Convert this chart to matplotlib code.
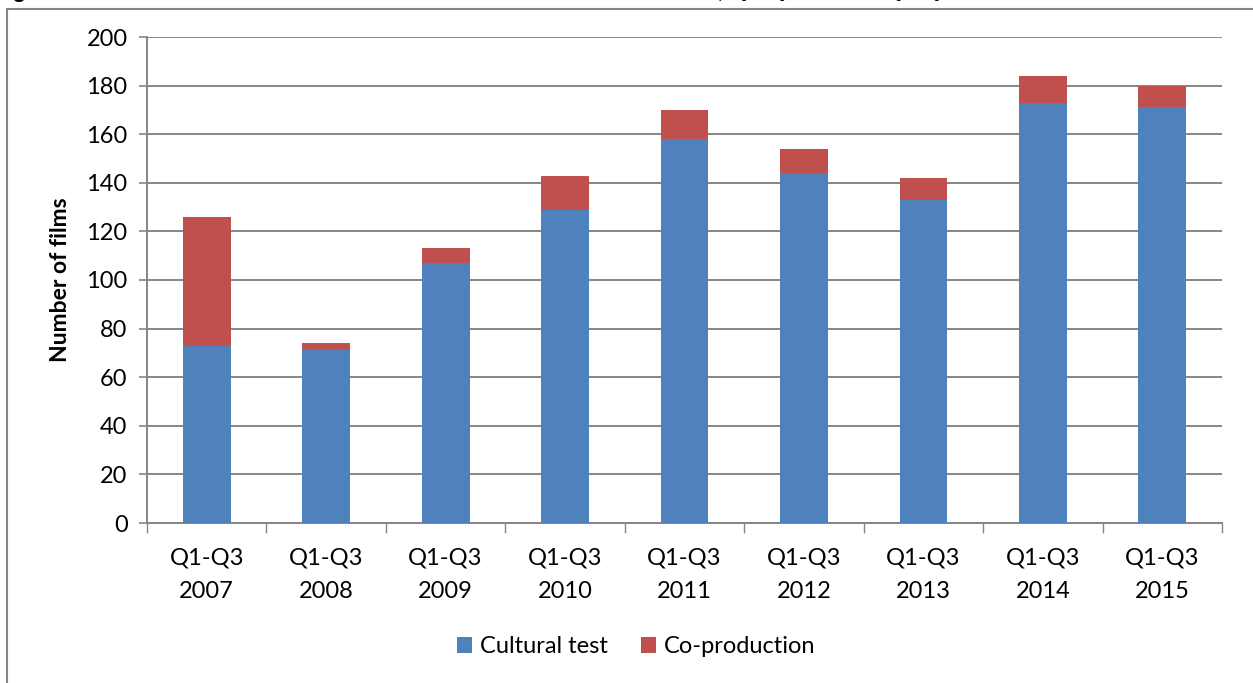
#!/usr/bin/env python3

import numpy as np
import matplotlib
matplotlib.use('Agg')
import matplotlib.pyplot as plt
from matplotlib.patches import Rectangle

periods = ['2007', '2008', '2009', '2010', '2011', '2012', '2013', '2014', '2015']
cultural_test = [73, 71, 107, 129, 158, 144, 133, 173, 171]
co_production = [53, 3, 6, 14, 12, 10, 9, 11, 9]

title = ('Figure 4: Number of feature films certified as British under the '
         'cultural test, Q1-Q3 2007 to Q1-Q3 2015')

BLUE = '#4F81BD'
RED = '#C0504D'
GREY = '#868686'

plt.rcParams['font.family'] = ['Lato', 'DejaVu Sans']
plt.rcParams['font.size'] = 17

fig = plt.figure(figsize=(12.53, 6.83), dpi=100)
ax = fig.add_axes([147 / 1253, 1 - 523 / 683, 1075 / 1253, 486 / 683])

xs = np.arange(len(periods))
ax.bar(xs, cultural_test, width=0.4, color=BLUE, label='Cultural test', zorder=3)
ax.bar(xs, co_production, width=0.4, bottom=cultural_test, color=RED,
       label='Co-production', zorder=3)

ax.set_xlim(-0.5, len(periods) - 0.5)
ax.set_ylim(0, 200)
ax.set_yticks(range(0, 201, 20))
ax.yaxis.grid(True, color=GREY, linewidth=1.4, zorder=0)
ax.set_axisbelow(True)

ax.set_xticks(xs)
ax.set_xticklabels(['Q1-Q3\n' + p for p in periods], linespacing=1.68)
ax.set_xticks(np.arange(-0.5, len(periods)), minor=True)
ax.tick_params(axis='x', which='major', length=0, pad=18)
ax.tick_params(axis='x', which='minor', length=7, width=1, color=GREY)
ax.tick_params(axis='y', length=6, width=1.2, color=GREY, pad=8)

for side in ['top', 'right']:
    ax.spines[side].set_visible(False)
for side in ['left', 'bottom']:
    ax.spines[side].set_color(GREY)
    ax.spines[side].set_linewidth(1.4)

ax.set_ylabel('Number of films', fontweight='bold', fontsize=16.5)
ax.yaxis.set_label_coords(-0.071, 0.5)

fig.legend(loc='center', bbox_to_anchor=(0.508, 0.053), ncol=2, frameon=False,
           handlelength=0.62, handleheight=0.62, handletextpad=0.35,
           columnspacing=1.4)

# outer chart frame, runs off the right and bottom edges
fig.patches.append(Rectangle((7 / 1253, -0.1), 1.2, 1.1 - 9 / 683,
                             transform=fig.transFigure, fill=False,
                             edgecolor=GREY, linewidth=1.5))

fig.text(-4 / 1253, 1 + 2 / 683, title, fontweight='bold', fontsize=15.6,
         va='baseline', ha='left')

fig.savefig('out.png', dpi=100)
